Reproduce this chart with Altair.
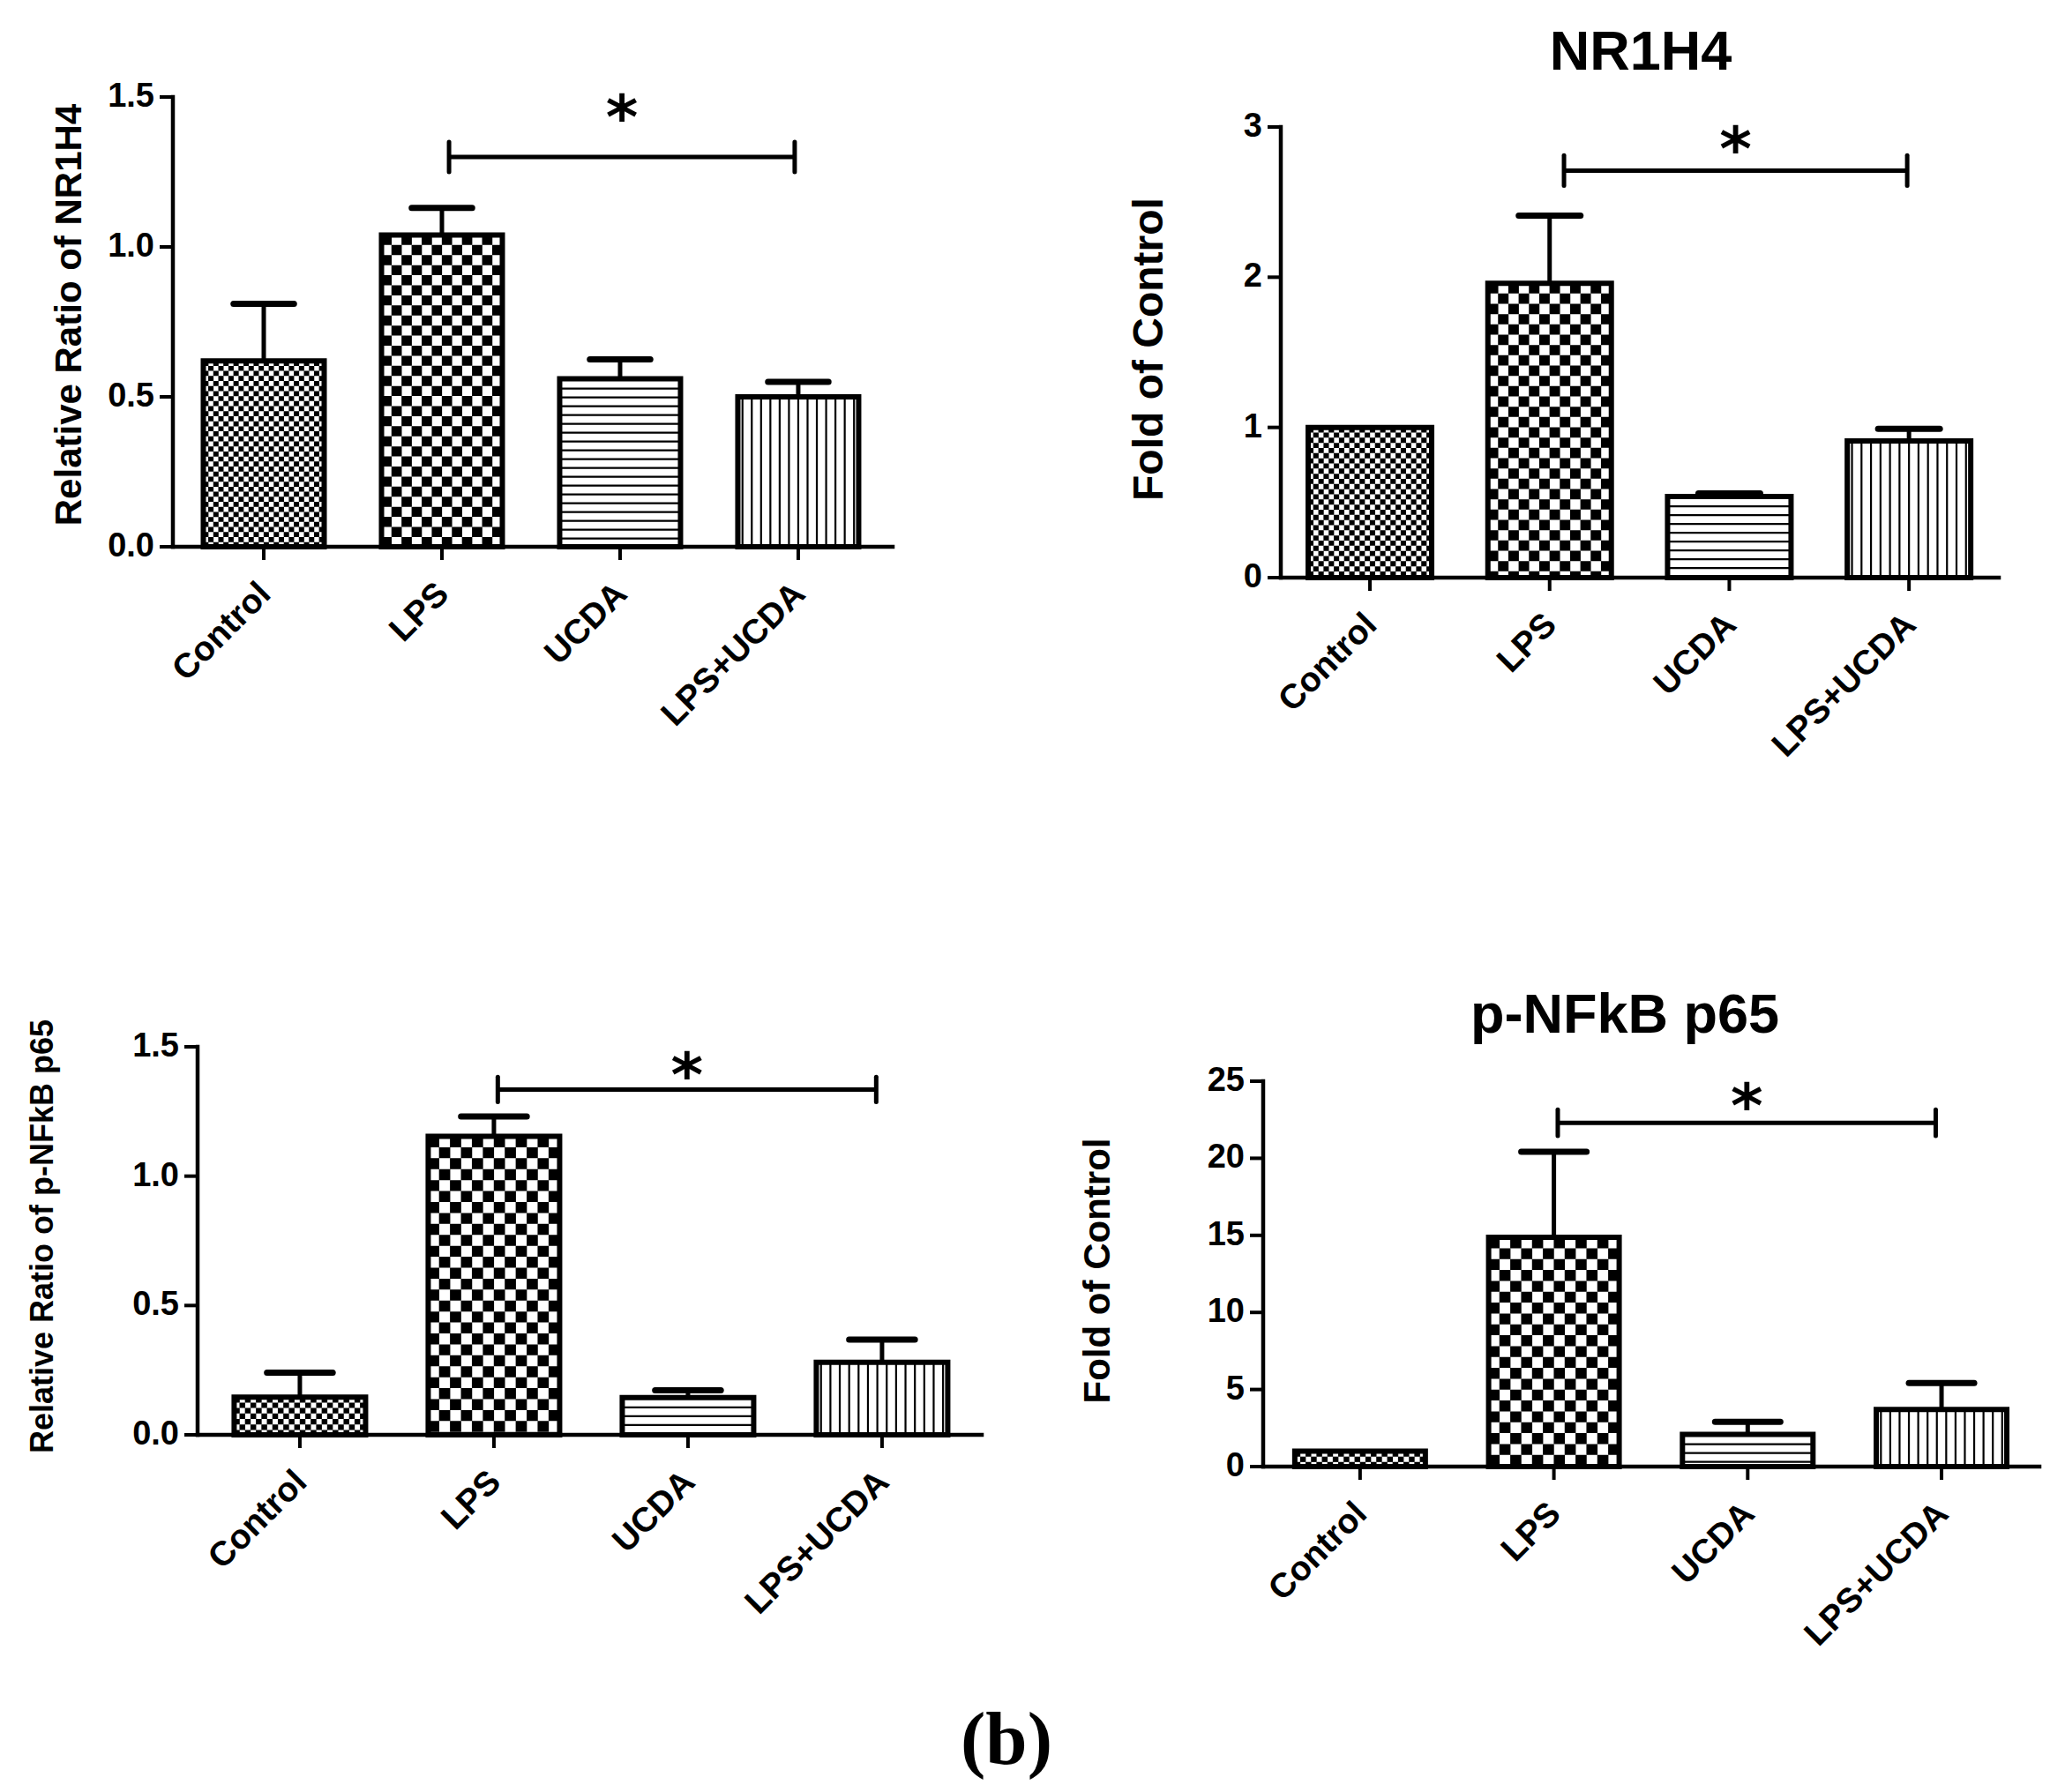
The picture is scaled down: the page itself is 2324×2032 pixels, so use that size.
import altair as alt
import pandas as pd

# ---------------- data ----------------
groups = ["Control", "LPS", "UCDA", "LPS+UCDA"]
positions = [1, 2, 3, 4]

nr1h4_ratio_mean = [0.62, 1.04, 0.56, 0.50]
nr1h4_ratio_top = [0.81, 1.13, 0.625, 0.55]
nr1h4_fold_mean = [1.0, 1.96, 0.54, 0.91]
nr1h4_fold_top = [1.0, 2.41, 0.56, 0.99]
p65_ratio_mean = [0.146, 1.154, 0.144, 0.28]
p65_ratio_top = [0.24, 1.231, 0.172, 0.368]
p65_fold_mean = [1.0, 14.87, 2.09, 3.7]
p65_fold_top = [1.0, 20.42, 2.9, 5.42]

ratio_ticks = [0.0, 0.5, 1.0, 1.5]
ratio_tick_labels = ["0.0", "0.5", "1.0", "1.5"]
fold3_ticks = [0, 1, 2, 3]
fold3_tick_labels = ["0", "1", "2", "3"]
fold25_ticks = [0, 5, 10, 15, 20, 25]
fold25_tick_labels = ["0", "5", "10", "15", "20", "25"]

# significance brackets: x start, x end, y level, half height ; asterisk y
bracket_tl = [2.04, 3.98, 1.30, 0.05]
bracket_tr = [2.08, 3.99, 2.71, 0.10]
bracket_bl = [2.02, 3.97, 1.335, 0.048]
bracket_br = [2.02, 3.97, 22.3, 0.85]
star_tl = 1.48
star_tr = 2.95
star_bl = 1.445
star_br = 24.3

ytitles = ["Relative Ratio of NR1H4", "Fold of Control",
           "Relative Ratio of p-NFkB p65", "Fold of Control"]
panel_titles = ["", "NR1H4", "", "p-NFkB p65"]

# ---------------- layout (pixels inside the view) ----------------
L_TL = dict(xdom=[0.49, 4.53], xrange=[188, 1004], ydom=[0, 1.5], yrange=[612, 102],
            bar_px=137, ytitle_xy=(71, 349), ytitle_size=42, title_xy=None)
L_TR = dict(xdom=[0.504, 4.50], xrange=[1444, 2258], ydom=[0, 3], yrange=[647, 136],
            bar_px=140, ytitle_xy=(1296, 388), ytitle_size=48, title_xy=(1852, 52))
L_BL = dict(xdom=[0.473, 4.514], xrange=[216, 1105], ydom=[0, 1.5], yrange=[1619, 1179],
            bar_px=149, ytitle_xy=(41, 1394), ytitle_size=36, title_xy=None)
L_BR = dict(xdom=[0.50, 4.505], xrange=[1424, 2304], ydom=[0, 25], yrange=[1655, 1218],
            bar_px=148, ytitle_xy=(1237, 1433), ytitle_size=42, title_xy=(1834, 1144))

SANS_WIDE = "DejaVu Sans"
SANS = "Liberation Sans"


def panel(mean, top, ticks, tick_labels, bracket, star_y, ytitle, title, L):
    xs = alt.Scale(domain=L["xdom"], range=L["xrange"], nice=False, zero=False)
    ys = alt.Scale(domain=L["ydom"], range=L["yrange"], nice=False, zero=False)
    ppx = (L["xrange"][1] - L["xrange"][0]) / (L["xdom"][1] - L["xdom"][0])
    ppy = (L["yrange"][0] - L["yrange"][1]) / (L["ydom"][1] - L["ydom"][0])
    bw = L["bar_px"]
    hw = bw / 2 / ppx
    x0 = L["xdom"][0]
    y0 = L["ydom"][0]

    def X(f):
        return alt.X(f, type="quantitative", scale=xs, axis=None)

    def Y(f):
        return alt.Y(f, type="quantitative", scale=ys, axis=None)

    df = pd.DataFrame({"g": groups, "pos": positions, "mean": mean, "top": top})
    df["x1"] = df["pos"] - hw
    df["x2"] = df["pos"] + hw
    df["c1"] = df["pos"] - 0.5 * hw
    df["c2"] = df["pos"] + 0.5 * hw
    df["base"] = y0
    df["lx"] = df["pos"] - 12 / ppx
    df["ly"] = y0 - 34 / ppy

    layers = []
    # checkerboards: fine for Control, coarse for LPS
    for idx, ncol in ((0, 24), (1, 12)):
        cell = bw / ncol
        cols = pd.DataFrame({
            "x": [positions[idx] - hw + (k + 0.5) * cell / ppx for k in range(ncol)],
            "par": [k % 2 for k in range(ncol)],
        })
        cols["y"] = mean[idx]
        cols["base"] = y0
        for par in (0, 1):
            layers.append(
                alt.Chart(cols[cols["par"] == par]).mark_rule(
                    color="black", strokeWidth=cell + 0.3, strokeDash=[cell, cell],
                    strokeDashOffset=par * cell, strokeCap="butt"
                ).encode(x=X("x"), y=Y("y"), y2=alt.Y2("base"))
            )
    # horizontal stripes for UCDA
    layers.append(
        alt.Chart(df.iloc[[2]]).mark_rule(
            color="black", strokeWidth=bw, strokeDash=[2.2, 7.8], strokeCap="butt"
        ).encode(x=X("pos"), y=Y("mean"), y2=alt.Y2("base"))
    )
    # vertical stripes for LPS+UCDA
    nst = int(round(bw / 10.5))
    sp = bw / nst
    vs = pd.DataFrame({"x": [positions[3] - hw + (k + 0.5) * sp / ppx for k in range(nst)]})
    vs["y"] = mean[3]
    vs["base"] = y0
    layers.append(
        alt.Chart(vs).mark_rule(color="black", strokeWidth=2.2).encode(
            x=X("x"), y=Y("y"), y2=alt.Y2("base"))
    )
    # bar outlines
    layers.append(
        alt.Chart(df).mark_rect(fill="white", fillOpacity=0, stroke="black",
                                strokeWidth=6, strokeJoin="miter").encode(
            x=X("x1"), x2=alt.X2("x2"), y=Y("mean"), y2=alt.Y2("base"))
    )
    # error bars
    eb = df[df["top"] > df["mean"]]
    layers.append(
        alt.Chart(eb).mark_rule(color="black", strokeWidth=5).encode(
            x=X("pos"), y=Y("mean"), y2=alt.Y2("top"))
    )
    layers.append(
        alt.Chart(eb).mark_rule(color="black", strokeWidth=7, strokeCap="round").encode(
            x=X("c1"), x2=alt.X2("c2"), y=Y("top"))
    )
    # axes
    ax = pd.DataFrame({"x0": [x0], "x1": [L["xdom"][1]], "y0": [y0], "y1": [max(ticks)]})
    layers.append(
        alt.Chart(ax).mark_rule(color="black", strokeWidth=4.5, strokeCap="square").encode(
            x=X("x0"), y=Y("y0"), y2=alt.Y2("y1"))
    )
    layers.append(
        alt.Chart(ax).mark_rule(color="black", strokeWidth=4.5, strokeCap="square").encode(
            x=X("x0"), x2=alt.X2("x1"), y=Y("y0"))
    )
    tk = pd.DataFrame({"t": ticks, "lab": tick_labels})
    tk["xa"] = x0
    layers.append(
        alt.Chart(tk).mark_rule(color="black", strokeWidth=4, x2Offset=-15).encode(
            x=X("xa"), x2=alt.X2("xa"), y=Y("t"))
    )
    layers.append(
        alt.Chart(tk).mark_text(align="right", baseline="middle", dx=-21, font=SANS,
                                fontWeight="bold", fontSize=38, color="black").encode(
            x=X("xa"), y=Y("t"), text="lab")
    )
    layers.append(
        alt.Chart(df).mark_rule(color="black", strokeWidth=4, y2Offset=15).encode(
            x=X("pos"), y=Y("base"), y2=alt.Y2("base"))
    )
    layers.append(
        alt.Chart(df).mark_text(angle=315, align="right", baseline="top", font=SANS,
                                fontWeight="bold", fontSize=39, color="black").encode(
            x=X("lx"), y=Y("ly"), text="g")
    )
    # significance bracket
    bd = pd.DataFrame({"xa": [bracket[0]], "xb": [bracket[1]], "y": [bracket[2]],
                       "xm": [(bracket[0] + bracket[1]) / 2], "sy": [star_y], "s": ["*"]})
    layers.append(
        alt.Chart(bd).mark_rule(color="black", strokeWidth=5).encode(
            x=X("xa"), x2=alt.X2("xb"), y=Y("y"))
    )
    ends = pd.DataFrame({"x": [bracket[0], bracket[1]],
                         "ylo": [bracket[2] - bracket[3]] * 2,
                         "yhi": [bracket[2] + bracket[3]] * 2})
    layers.append(
        alt.Chart(ends).mark_rule(color="black", strokeWidth=5, strokeCap="round").encode(
            x=X("x"), y=Y("ylo"), y2=alt.Y2("yhi"))
    )
    layers.append(
        alt.Chart(bd).mark_text(align="center", baseline="alphabetic", dy=40, font=SANS_WIDE,
                                fontWeight="bold", fontSize=70, color="black").encode(
            x=X("xm"), y=Y("sy"), text="s")
    )
    # axis title
    tdf = pd.DataFrame({"t": [ytitle]})
    layers.append(
        alt.Chart(tdf).mark_text(angle=270, align="center", baseline="middle", font=SANS,
                                 fontWeight="bold", fontSize=L["ytitle_size"],
                                 color="black").encode(
            x=alt.value(L["ytitle_xy"][0]), y=alt.value(L["ytitle_xy"][1]), text="t")
    )
    if title:
        hdf = pd.DataFrame({"t": [title]})
        layers.append(
            alt.Chart(hdf).mark_text(align="center", baseline="middle", font=SANS,
                                     fontWeight="bold", fontSize=63, color="black").encode(
                x=alt.value(L["title_xy"][0]), y=alt.value(L["title_xy"][1]), text="t")
        )
    return alt.layer(*layers)


tl = panel(nr1h4_ratio_mean, nr1h4_ratio_top, ratio_ticks, ratio_tick_labels,
           bracket_tl, star_tl, ytitles[0], panel_titles[0], L_TL)
tr = panel(nr1h4_fold_mean, nr1h4_fold_top, fold3_ticks, fold3_tick_labels,
           bracket_tr, star_tr, ytitles[1], panel_titles[1], L_TR)
bl = panel(p65_ratio_mean, p65_ratio_top, ratio_ticks, ratio_tick_labels,
           bracket_bl, star_bl, ytitles[2], panel_titles[2], L_BL)
br = panel(p65_fold_mean, p65_fold_top, fold25_ticks, fold25_tick_labels,
           bracket_br, star_br, ytitles[3], panel_titles[3], L_BR)

caption = alt.Chart(pd.DataFrame({"t": ["(b)"]})).mark_text(
    align="center", baseline="middle", font="Liberation Serif", fontWeight="bold",
    fontSize=85, color="black"
).encode(x=alt.value(1133), y=alt.value(1966), text="t")

chart = alt.layer(tl, tr, bl, br, caption).resolve_scale(
    x="independent", y="independent"
).properties(
    width=2308, height=2016, padding=0, autosize=alt.AutoSizeParams(type="none")
).configure_view(stroke=None)

chart.save("out.html", embed_options={"renderer": "svg", "actions": False})
